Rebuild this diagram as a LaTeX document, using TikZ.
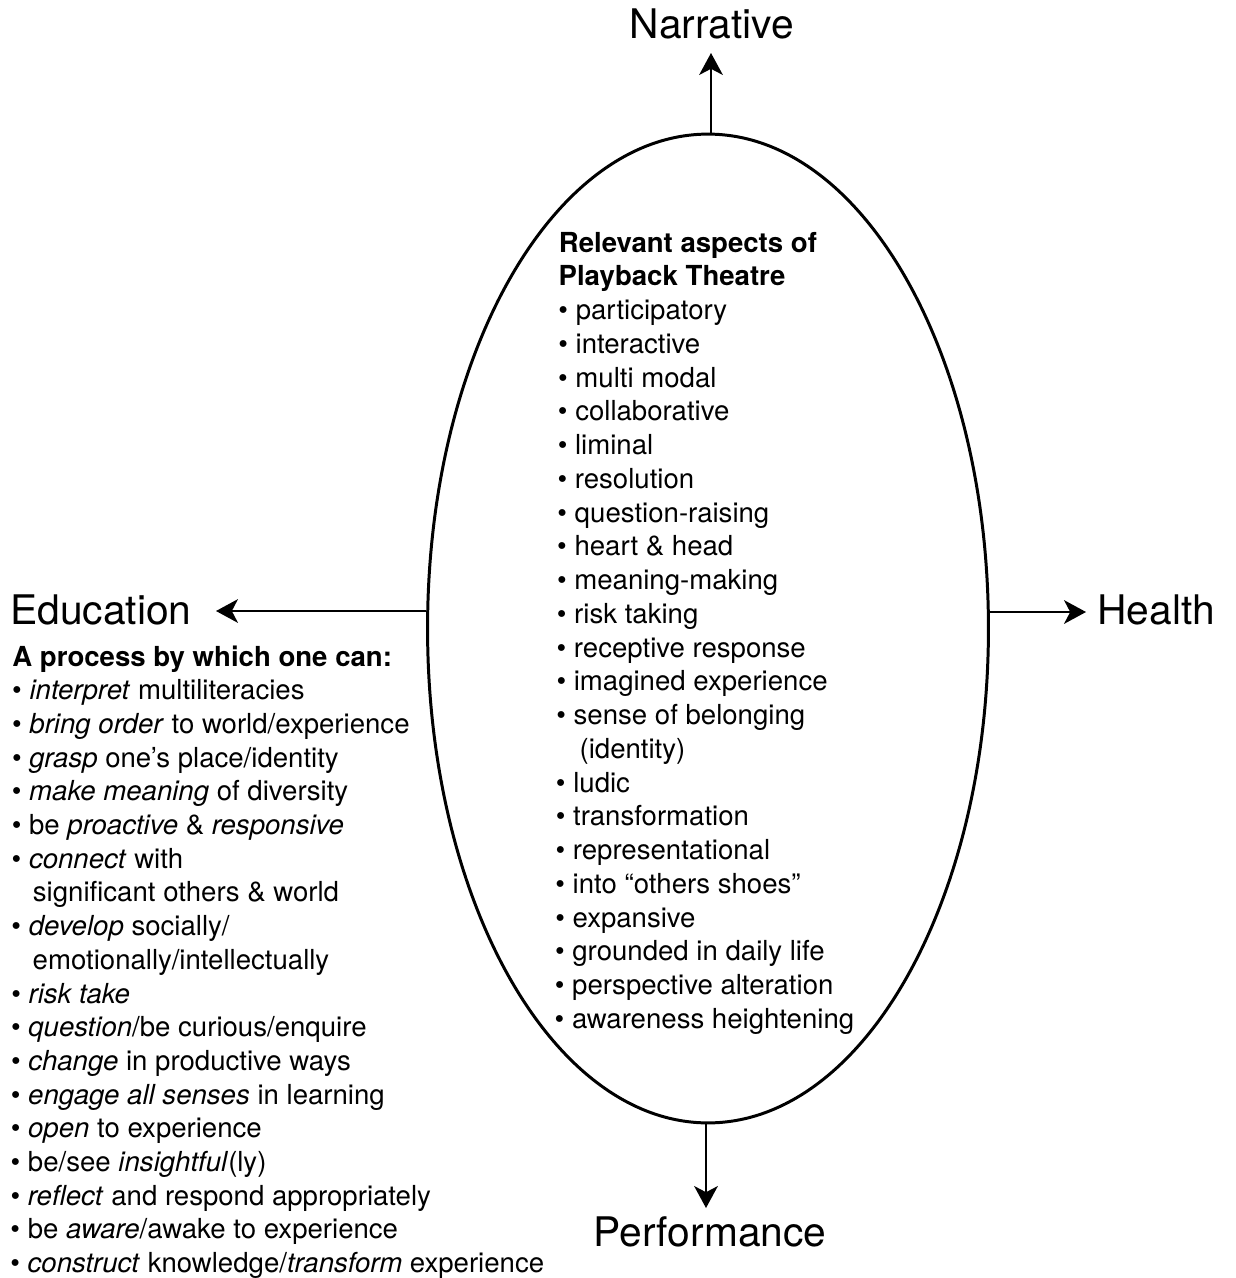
\documentclass[tikz,border=0pt]{standalone}
\usepackage{fontspec}
\setmainfont{TeX Gyre Heros}
\usetikzlibrary{arrows.meta,shapes.geometric}
\newcommand\pbul{•\ }
\newcommand\pind{\hphantom{•\ }}
\begin{document}
\begin{tikzpicture}[x=0.02cm,y=-0.02cm,
  big/.style={font=\fontsize{23.2}{28}\selectfont, inner sep=0, anchor=base},
  txt/.style={font=\fontsize{15.7}{19}\selectfont, inner sep=0, anchor=base west},
  arr/.style={line width=1.1pt, -{Stealth[length=12.5pt,width=13.5pt,inset=3.5pt]}},
  oval/.style={draw, ellipse, line width=1.7pt, inner sep=0, minimum width=11.22cm, minimum height=19.78cm}
]
\useasboundingbox (0,0) rectangle (1236,1278);
\node[oval] (E) at (708,628.5) {};

% labels
\node[big] (N) at (712,38) {Narrative};
\node[big] (P) at (710,1246) {Performance};
\node[big, anchor=base west] (Ed) at (10,624) {Education};
\node[big, anchor=base west] (H) at (1097,624) {Health};

% arrow tips
\coordinate (nt) at (711,53);
\coordinate (pt) at (706,1208);
\coordinate (et) at (216,611);
\coordinate (ht) at (1086,612);
\draw[arr] (E.north -| nt) -- (nt);
\draw[arr] (E.south -| pt) -- (pt);
\draw[arr] (E.west |- et) -- (et);
\draw[arr] (E.east |- ht) -- (ht);

% ellipse list
\foreach \t [count=\i from 0] in {
  {\textbf{Relevant aspects of}},
  {\textbf{Playback Theatre}},
  {\pbul participatory},
  {\pbul interactive},
  {\pbul multi modal},
  {\pbul collaborative},
  {\pbul liminal},
  {\pbul resolution},
  {\pbul question-raising},
  {\pbul heart \& head},
  {\pbul meaning-making},
  {\pbul risk taking},
  {\pbul receptive response},
  {\pbul imagined experience},
  {\pbul sense of belonging},
  {\pind\hspace{3.5pt}(identity)},
  {\pbul ludic},
  {\pbul transformation},
  {\pbul representational},
  {\pbul into “others shoes”},
  {\pbul expansive},
  {\pbul grounded in daily life},
  {\pbul perspective alteration},
  {\pbul awareness heightening}}
  \node[txt] (R\i) at (558.5-0.18*\i, 252+33.75*\i) {\t};

% education list
\foreach \t [count=\i from 0] in {
  {\textbf{A process by which one can:}},
  {\pbul\textit{interpret} multiliteracies},
  {\pbul\textit{bring order} to world/experience},
  {\pbul\textit{grasp} one’s place/identity},
  {\pbul\textit{make meaning} of diversity},
  {\pbul be \textit{proactive} \& \textit{responsive}},
  {\pbul\textit{connect} with},
  {\pind\hspace{2.3pt}significant others \& world},
  {\pbul\textit{develop} socially/},
  {\pind\hspace{2.3pt}emotionally/intellectually},
  {\pbul\textit{risk take}},
  {\pbul\textit{question}/be curious/enquire},
  {\pbul\textit{change} in productive ways},
  {\pbul\textit{engage all senses} in learning},
  {\pbul\textit{open} to experience},
  {\pbul be/see \textit{insightful}(ly)},
  {\pbul\textit{reflect} and respond appropriately},
  {\pbul be \textit{aware}/awake to experience},
  {\pbul\textit{construct} knowledge/\textit{transform} experience}}
  \node[txt] (L\i) at (12-0.11*\i, 666+33.7*\i) {\t};
\end{tikzpicture}
\end{document}
